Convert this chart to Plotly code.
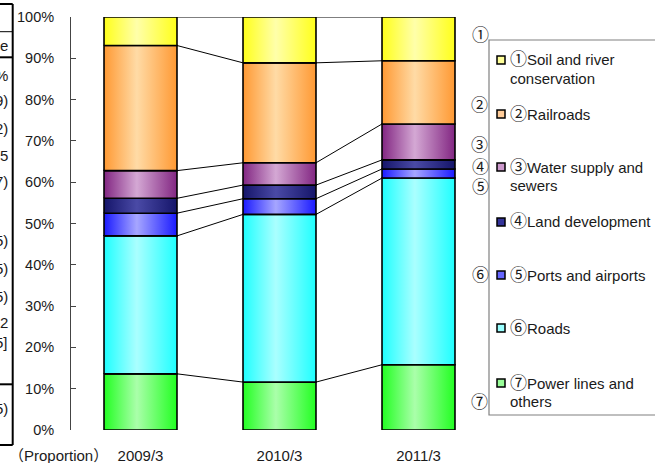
import plotly.graph_objects as go

# ---------------- data ----------------
categories = ["2009/3", "2010/3", "2011/3"]

# stacked from bottom to top (percent of total)
power_lines = [13.6, 11.6, 15.8]
roads = [33.4, 40.6, 45.2]
ports_airports = [5.5, 3.8, 2.2]
land_development = [3.6, 3.3, 2.2]
water_sewers = [6.7, 5.4, 8.7]
railroads = [30.3, 24.2, 15.3]
soil_river = [6.9, 11.1, 10.6]

series_values = [power_lines, roads, ports_airports, land_development,
                 water_sewers, railroads, soil_river]
series_names = ["⑦Power lines and others", "⑥Roads", "⑤Ports and airports",
                "④Land development", "③Water supply and sewers",
                "②Railroads", "①Soil and river conservation"]

y_tick_values = [0, 10, 20, 30, 40, 50, 60, 70, 80, 90, 100]
y_tick_labels = ["0%", "10%", "20%", "30%", "40%", "50%", "60%", "70%", "80%", "90%", "100%"]

legend_lines = [
    ["①Soil and river", "conservation"],
    ["②Railroads"],
    ["③Water supply and", "sewers"],
    ["④Land development"],
    ["⑤Ports and airports"],
    ["⑥Roads"],
    ["⑦Power lines and", "others"],
]
side_labels = ["①", "②", "③", "④", "⑤", "⑥", "⑦"]
table_fragments = ["e", "%", "9)", "2)", "5", "7)", "5)", "5)", "5)", "2", "5]", "5)"]

# ---------------- styles ----------------
grad_colors = [
    ("#22ff22", "#aaffaa"),
    ("#1effff", "#aaffff"),
    ("#1a1aff", "#a6a6ff"),
    ("#15156a", "#4a4aa6"),
    ("#822682", "#d4a8d4"),
    ("#ff9933", "#ffdba6"),
    ("#ffff1a", "#ffffaa"),
]
legend_key_colors = ["#ffff99", "#ffcc99", "#cc99cc", "#333399", "#6666ff", "#99ffff", "#99ff99"]

FONT = "Liberation Sans, Noto Sans CJK JP, sans-serif"
TXT = "#1a1a1a"
W, H = 655, 463
L, R, T, B = 71, 167, 17, 33
PW, PH = W - L - R, H - T - B
BAR_W = 0.525


def px(xpix):
    return (xpix - L) / PW


def py(ypix):
    return (H - B - ypix) / PH


def big_circled(text):
    for c in side_labels:
        text = text.replace(c, "<span style='font-size:17px'>" + c + "</span>")
    return text


fig = go.Figure()

n = len(categories)
cum = [[0.0] * n]
for vals in series_values:
    cum.append([cum[-1][i] + vals[i] for i in range(n)])

# series connector lines
lx, ly = [], []
for level in cum[1:]:
    for i in range(n - 1):
        lx += [i + BAR_W / 2, i + 1 - BAR_W / 2, None]
        ly += [level[i], level[i + 1], None]
fig.add_trace(go.Scatter(x=lx, y=ly, mode="lines", line=dict(color="black", width=1),
                         hoverinfo="skip", showlegend=False))

# stacked segments with horizontal gradient
for s, vals in enumerate(series_values):
    edge, centre = grad_colors[s]
    for i in range(n):
        x0, x1 = i - BAR_W / 2, i + BAR_W / 2
        y0, y1 = cum[s][i], cum[s + 1][i]
        fig.add_trace(go.Scatter(
            x=[x0, x1, x1, x0, x0], y=[y0, y0, y1, y1, y0],
            mode="lines", fill="toself",
            fillgradient=dict(type="horizontal",
                              colorscale=[[0, edge], [0.45, centre], [1, edge]]),
            line=dict(color="black", width=1.6),
            name=series_names[s], hoverinfo="name", showlegend=False))

shapes = []
annotations = []

# manual legend box
shapes.append(dict(type="rect", xref="paper", yref="paper",
                   x0=px(489), x1=px(720), y0=py(415), y1=py(40),
                   line=dict(color="#808080", width=1.2), fillcolor="rgba(0,0,0,0)"))
legend_first_y = [60, 114, 167, 222, 275, 328, 383]
for k, lines in enumerate(legend_lines):
    y0 = legend_first_y[k]
    shapes.append(dict(type="rect", xref="paper", yref="paper",
                       x0=px(497), x1=px(505), y0=py(y0 + 4), y1=py(y0 - 4),
                       line=dict(color="black", width=1.5),
                       fillcolor=legend_key_colors[k]))
    for j, line in enumerate(lines):
        annotations.append(dict(text=big_circled(line), xref="paper", yref="paper",
                                x=px(508), y=py(y0 + 18 * j), xanchor="left",
                                yanchor="middle", showarrow=False,
                                font=dict(size=15, color=TXT, family=FONT)))

# circled number labels to the left of the legend
side_pos = [(480, 35), (479, 105), (479, 145), (480, 167), (480, 187), (480, 275), (479, 402)]
for lab, (xx, yy) in zip(side_labels, side_pos):
    annotations.append(dict(text=lab, xref="paper", yref="paper", x=px(xx), y=py(yy),
                            xanchor="center", yanchor="middle", showarrow=False,
                            font=dict(size=17, color=TXT, family=FONT)))

annotations.append(dict(text="（Proportion）", xref="paper", yref="paper",
                        x=px(58), y=py(455), xanchor="center", yanchor="middle",
                        showarrow=False, font=dict(size=15, color=TXT, family=FONT)))

# cropped table at left edge
tbl = dict(color="black", width=2)
shapes.append(dict(type="line", xref="paper", yref="paper", x0=px(12.7), x1=px(12.7),
                   y0=py(4), y1=py(445), line=tbl))
for yy, wdt in [(4, 2), (31.7, 1), (57.3, 2), (384.3, 2), (445, 2)]:
    shapes.append(dict(type="line", xref="paper", yref="paper", x0=px(-5), x1=px(12.7),
                       y0=py(yy), y1=py(yy), line=dict(color="black", width=wdt)))
frag_y = [45, 75, 100, 128, 155, 182, 240, 268, 296, 322, 342, 408]
for txt, yy in zip(table_fragments, frag_y):
    annotations.append(dict(text=txt, xref="paper", yref="paper", x=px(9.5), y=py(yy),
                            xanchor="right", yanchor="middle", showarrow=False,
                            font=dict(size=15, color=TXT, family=FONT)))

fig.update_layout(
    width=W, height=H,
    margin=dict(l=L, r=R, t=T, b=B, autoexpand=False),
    paper_bgcolor="white", plot_bgcolor="white",
    showlegend=False,
    font=dict(family=FONT, color=TXT, size=15),
    xaxis=dict(range=[-0.5, 2.5], tickvals=list(range(n)), ticktext=categories,
               showline=False, showgrid=False, zeroline=False, ticks="",
               tickfont=dict(size=15, color=TXT), ticklabelstandoff=15,
               automargin=False, fixedrange=True),
    yaxis=dict(range=[0, 100], tickvals=y_tick_values, ticktext=y_tick_labels,
               ticks="inside", ticklen=5, tickcolor="#444", tickwidth=1,
               showline=True, linecolor="#444", linewidth=1,
               showgrid=False, zeroline=False,
               tickfont=dict(size=14.5, color=TXT), ticklabelstandoff=13,
               automargin=False, fixedrange=True),
    shapes=shapes, annotations=annotations,
)

fig.write_html("out.html", config={"displayModeBar": False},
               post_script="document.body.style.margin='0px';document.body.style.padding='0px';")
